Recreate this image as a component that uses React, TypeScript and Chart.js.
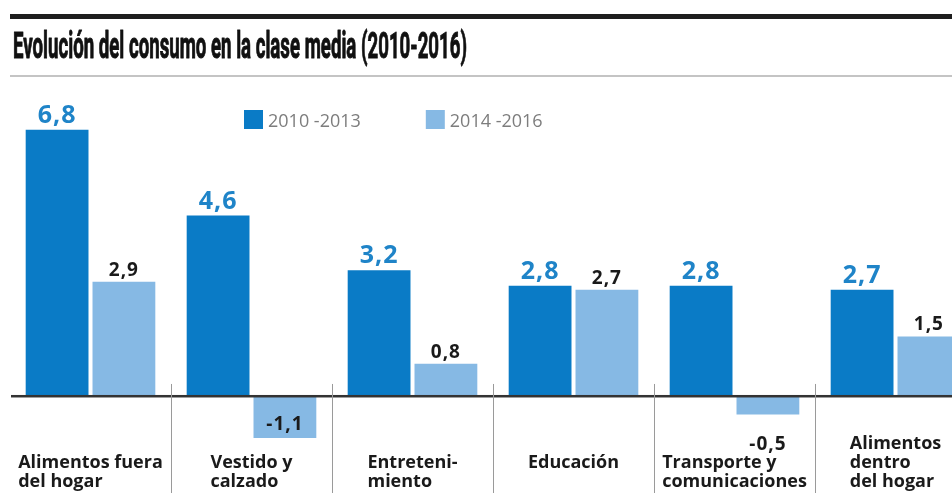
import { useEffect, useRef } from 'react';
import { Chart, registerables } from 'chart.js';

Chart.register(...registerables);

const title = 'Evolución del consumo en la clase media (2010-2016)';
const categories: string[][] = [
  ['Alimentos fuera', 'del hogar'],
  ['Vestido y', 'calzado'],
  ['Entreteni-', 'miento'],
  ['Educación'],
  ['Transporte y', 'comunicaciones'],
  ['Alimentos', 'dentro', 'del hogar'],
];
const seriesNames = ['2010 -2013', '2014 -2016'];
const series2010 = [6.8, 4.6, 3.2, 2.8, 2.8, 2.7];
const series2014 = [2.9, -1.1, 0.8, 2.7, -0.5, 1.5];

const DARK = '#0a7bc6';
const LIGHT = '#86b9e4';
const LABEL_BLUE = '#1f84c8';
const W = 990;
const H = 493;

const fmt = (v: number) => v.toFixed(1).replace('.', ',');

const decor = {
  id: 'decor',
  beforeDraw(chart: any) {
    const ctx = chart.ctx as CanvasRenderingContext2D;
    ctx.save();
    ctx.fillStyle = '#ffffff';
    ctx.fillRect(0, 0, chart.width, chart.height);
    // top thick rule
    ctx.fillStyle = '#1e1e1e';
    ctx.fillRect(10, 14, chart.width - 10, 5);
    // title (condensed by horizontal scaling)
    ctx.font = 'bold 37px Roboto, "Liberation Sans", sans-serif';
    ctx.fillStyle = '#111111';
    ctx.strokeStyle = '#111111';
    ctx.lineWidth = 1.0;
    ctx.lineJoin = 'round';
    ctx.textBaseline = 'alphabetic';
    ctx.textAlign = 'left';
    const tw = ctx.measureText(title).width;
    ctx.save();
    ctx.translate(13, 58);
    ctx.scale(454 / tw, 1);
    ctx.fillText(title, 0, 0);
    ctx.strokeText(title, 0, 0);
    ctx.restore();
    // thin grey rule
    ctx.fillStyle = '#c4c4c4';
    ctx.fillRect(10, 75, chart.width - 10, 2);
    // legend
    ctx.font = '18px "Open Sans", sans-serif';
    let x = 244;
    chart.data.datasets.forEach((ds: any) => {
      ctx.fillStyle = ds.backgroundColor;
      ctx.fillRect(x, 110, 19, 19);
      ctx.fillStyle = '#7d7d7d';
      ctx.fillText(ds.label, x + 24, 127);
      x += 24 + ctx.measureText(ds.label).width + 65;
    });
    ctx.restore();
  },
  afterDatasetsDraw(chart: any) {
    const ctx = chart.ctx as CanvasRenderingContext2D;
    const xs = chart.scales.x;
    const ys = chart.scales.y;
    const y0 = ys.getPixelForValue(0);
    ctx.save();
    // baseline
    ctx.fillStyle = '#333333';
    ctx.fillRect(11, y0, chart.width - 11, 2.5);
    // separators between categories
    ctx.strokeStyle = '#9a9a9a';
    ctx.lineWidth = 1;
    const n = chart.data.labels.length;
    for (let i = 0; i < n - 1; i++) {
      const bx = Math.round((xs.getPixelForValue(i) + xs.getPixelForValue(i + 1)) / 2) + 0.5;
      ctx.beginPath();
      ctx.moveTo(bx, y0 - 11);
      ctx.lineTo(bx, chart.height);
      ctx.stroke();
    }
    // value labels
    ctx.textAlign = 'center';
    ctx.textBaseline = 'alphabetic';
    chart.data.datasets.forEach((ds: any, di: number) => {
      const meta = chart.getDatasetMeta(di);
      meta.data.forEach((el: any, i: number) => {
        const v = ds.data[i] as number;
        const t = fmt(v);
        if (di === 0) {
          ctx.font = 'bold 25px "Open Sans", sans-serif';
          (ctx as any).letterSpacing = '1px';
          ctx.fillStyle = LABEL_BLUE;
          ctx.fillText(t, el.x, el.y - 7);
        } else {
          ctx.font = 'bold 19px "Open Sans", sans-serif';
          (ctx as any).letterSpacing = '1px';
          ctx.fillStyle = '#1a1a1a';
          if (v >= 0) {
            ctx.fillText(t, el.x, el.y - 6);
          } else {
            const len = el.y - el.base;
            if (len > 30) ctx.fillText(t, el.x, el.y - 8);
            else ctx.fillText(t, el.x, el.y + 36);
          }
        }
      });
    });
    (ctx as any).letterSpacing = '0px';
    // category labels: block centred on category, lines left-aligned
    ctx.font = 'bold 18px "Open Sans", sans-serif';
    ctx.fillStyle = '#1a1a1a';
    ctx.textAlign = 'left';
    const lh = 19;
    chart.data.labels.forEach((lines: string[], i: number) => {
      const cx = xs.getPixelForValue(i);
      const bw = Math.max(...lines.map((l) => ctx.measureText(l).width));
      const left = cx - bw / 2;
      const first = 468 - Math.max(0, lines.length - 2) * lh;
      lines.forEach((l, k) => ctx.fillText(l, left, first + k * lh));
    });
    ctx.restore();
  },
};

export default function App() {
  const ref = useRef<HTMLCanvasElement>(null);
  useEffect(() => {
    const chart = new Chart(ref.current as HTMLCanvasElement, {
      type: 'bar',
      data: {
        labels: categories as any,
        datasets: [
          {
            label: seriesNames[0],
            data: series2010,
            backgroundColor: DARK,
            categoryPercentage: 0.83,
            barPercentage: 0.94,
          },
          {
            label: seriesNames[1],
            data: series2014,
            backgroundColor: LIGHT,
            categoryPercentage: 0.83,
            barPercentage: 0.94,
          },
        ],
      },
      options: {
        responsive: false,
        animation: false,
        devicePixelRatio: 1,
        layout: { padding: { left: 10, right: W - 976, top: 118, bottom: 0.5 } },
        scales: {
          x: { display: false },
          y: { display: false, min: -2.5, max: 7.1 },
        },
        plugins: {
          legend: { display: false },
          tooltip: { enabled: false },
        },
      },
      plugins: [decor],
    });
    return () => chart.destroy();
  }, []);
  return (
    <div
      style={{
        position: 'fixed',
        left: 0,
        top: 0,
        width: 952,
        height: 493,
        overflow: 'hidden',
        background: '#fff',
      }}
    >
      <canvas ref={ref} width={W} height={H} style={{ display: 'block' }} />
    </div>
  );
}
